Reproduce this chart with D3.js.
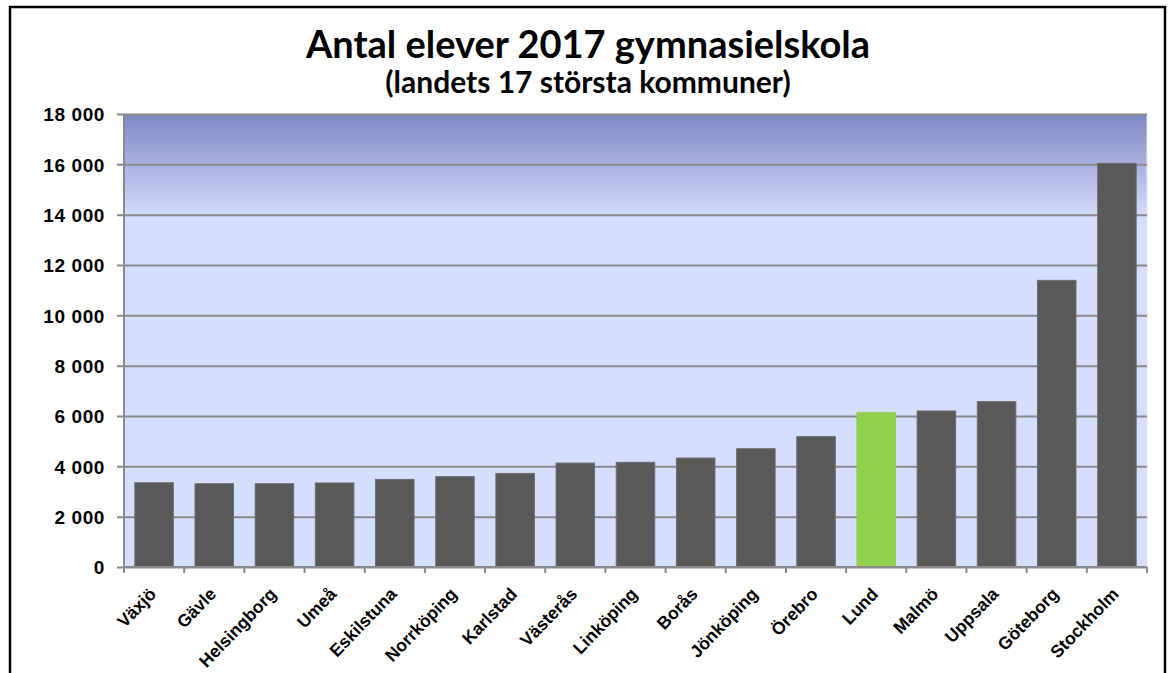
<!DOCTYPE html>
<html>
<head>
<meta charset="utf-8">
<script src="https://cdn.jsdelivr.net/npm/d3@7"></script>
<style>
  body { margin: 0; background: #fff; }
  svg { display: block; }
</style>
</head>
<body>
<svg id="chart" width="1173" height="673"></svg>
<script>
let kommuner = ["Växjö", "Gävle", "Helsingborg", "Umeå", "Eskilstuna", "Norrköping", "Karlstad",
    "Västerås", "Linköping", "Borås", "Jönköping", "Örebro", "Lund", "Malmö", "Uppsala", "Göteborg", "Stockholm"];
let elever = [3350, 3310, 3310, 3340, 3480, 3590, 3720, 4130, 4160, 4330, 4700, 5180, 6130, 6200, 6570, 11390, 16040];
let yTicks = [0, 2000, 4000, 6000, 8000, 10000, 12000, 14000, 16000, 18000];
let highlight = "Lund";

let title = "Antal elever 2017 gymnasielskola";
let subtitle = "(landets 17 största kommuner)";

let margin = { top: 114, right: 26, bottom: 106, left: 124 };
let svg = d3.select("#chart");
let width = +svg.attr("width") - margin.left - margin.right;
let height = +svg.attr("height") - margin.top - margin.bottom;

// outer frame (bottom is cut off in the original)
svg.append("path")
    .attr("d", "M10,673 V7 H1165 V673")
    .attr("fill", "none")
    .attr("stroke", "#000")
    .attr("stroke-width", 2.5);

let defs = svg.append("defs");
let grad = defs.append("linearGradient")
    .attr("id", "bg")
    .attr("x1", 0).attr("y1", 0).attr("x2", 0).attr("y2", 1);
grad.append("stop").attr("offset", "0%").attr("stop-color", "#7f87c3");
grad.append("stop").attr("offset", "23%").attr("stop-color", "#d4defe");
grad.append("stop").attr("offset", "100%").attr("stop-color", "#d4defe");

svg.append("text")
    .attr("x", 588)
    .attr("y", 58)
    .attr("text-anchor", "middle")
    .attr("font-family", "Lato, 'Open Sans', sans-serif")
    .attr("font-weight", "bold")
    .attr("font-size", "38px")
    .text(title);

svg.append("text")
    .attr("x", 588)
    .attr("y", 93)
    .attr("text-anchor", "middle")
    .attr("font-family", "Lato, 'Open Sans', sans-serif")
    .attr("font-weight", "bold")
    .attr("font-size", "30px")
    .text(subtitle);

let g = svg.append("g").attr("transform", `translate(${margin.left}, ${margin.top})`);

let x = d3.scaleBand()
    .domain(kommuner)
    .range([0, width])
    .paddingInner(0.36)
    .paddingOuter(0.18);

let y = d3.scaleLinear()
    .domain([0, 18000])
    .range([height, 0]);

g.append("rect")
    .attr("width", width)
    .attr("height", height)
    .attr("fill", "url(#bg)")
    .attr("stroke", "#e4e8f4")
    .attr("stroke-width", 1);

// gridlines + y axis
let fmt = d => d3.format(",")(d).replace(/,/g, " ");
let yAxis = g.append("g")
    .call(d3.axisLeft(y).tickValues(yTicks).tickSize(-width).tickSizeOuter(0).tickFormat(fmt).tickPadding(19));
yAxis.select(".domain").remove();
yAxis.selectAll(".tick line")
    .attr("stroke", "#8a8a8a")
    .attr("stroke-width", 2)
    .attr("x1", -7);
yAxis.selectAll(".tick text")
    .attr("fill", "#000")
    .attr("font-family", "Arial, 'Liberation Sans', sans-serif")
    .attr("font-weight", "bold")
    .attr("font-size", "19px")
    .attr("letter-spacing", "0.6px")
    .attr("dy", "0.36em");

g.append("line")
    .attr("x1", 0).attr("x2", 0)
    .attr("y1", 0).attr("y2", height)
    .attr("stroke", "#8a8a8a")
    .attr("stroke-width", 2);

g.selectAll(".bar")
    .data(kommuner)
    .enter().append("rect")
        .attr("class", "bar")
        .attr("x", d => x(d))
        .attr("y", (d, i) => y(elever[i]))
        .attr("width", x.bandwidth())
        .attr("height", (d, i) => height - y(elever[i]))
        .attr("fill", d => d == highlight ? "#92d050" : "#595959")
        .attr("stroke", d => d == highlight ? "#8fcf4c" : "#6e6e6e")
        .attr("stroke-width", 1);

// x axis, ticks between categories
let xAxis = g.append("g")
    .attr("transform", `translate(0, ${height})`);
xAxis.append("line")
    .attr("x1", 0).attr("x2", width)
    .attr("stroke", "#8a8a8a")
    .attr("stroke-width", 2);
xAxis.selectAll(".sep")
    .data(d3.range(kommuner.length + 1))
    .enter().append("line")
        .attr("class", "sep")
        .attr("x1", i => i * width / kommuner.length)
        .attr("x2", i => i * width / kommuner.length)
        .attr("y1", 0).attr("y2", 6)
        .attr("stroke", "#8a8a8a")
        .attr("stroke-width", 2);
xAxis.selectAll(".lbl")
    .data(kommuner)
    .enter().append("text")
        .attr("class", "lbl")
        .attr("text-anchor", "end")
        .attr("transform", d => `translate(${x(d) + x.bandwidth() / 2 + 3}, 28) rotate(-46)`)
        .attr("font-family", "Arial, 'Liberation Sans', sans-serif")
        .attr("font-weight", "bold")
        .attr("font-size", "17.5px")
        .attr("fill", "#000")
        .text(d => d);
</script>
</body>
</html>
